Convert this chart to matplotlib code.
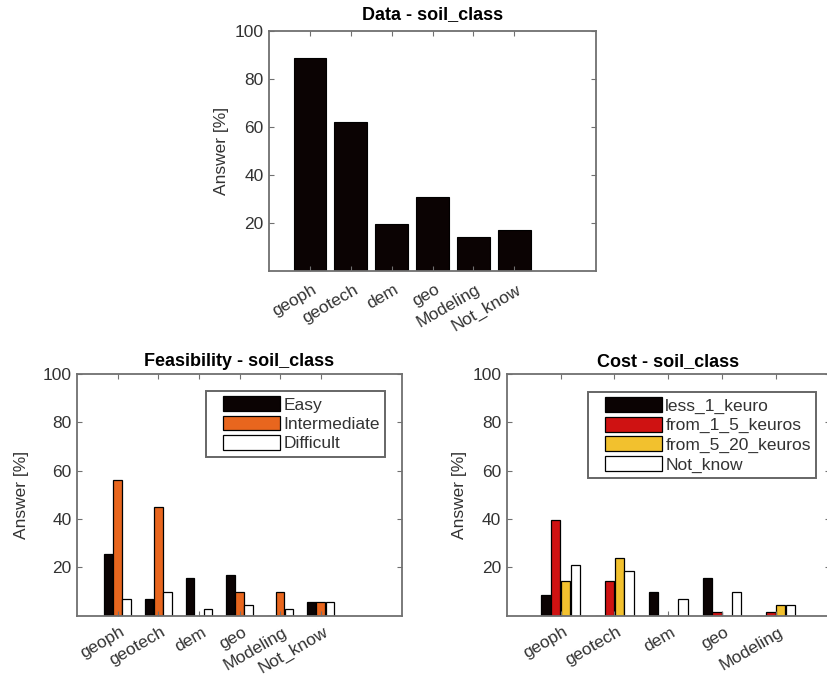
import matplotlib
matplotlib.use("Agg")
import matplotlib.pyplot as plt
import matplotlib.transforms as mtransforms
from matplotlib.patches import Rectangle
from matplotlib.legend_handler import HandlerPatch
import numpy as np

plt.rcParams['font.family'] = ['Liberation Sans', 'DejaVu Sans']

# ---------------- data ----------------
cats_data = ['geoph', 'geotech', 'dem', 'geo', 'Modeling', 'Not_know']
data_vals = [88.7, 62.0, 19.7, 31.0, 14.1, 16.9]

cats_feas = ['geoph', 'geotech', 'dem', 'geo', 'Modeling', 'Not_know']
feas_labels = ['Easy', 'Intermediate', 'Difficult']
feas_easy = [25.4, 7.0, 15.5, 16.9, 0.0, 5.6]
feas_inter = [56.3, 45.1, 0.0, 9.9, 9.9, 5.6]
feas_diff = [7.0, 9.9, 2.8, 4.2, 2.8, 5.6]

cats_cost = ['geoph', 'geotech', 'dem', 'geo', 'Modeling']
cost_labels = ['less_1_keuro', 'from_1_5_keuros', 'from_5_20_keuros', 'Not_know']
cost_less1 = [8.5, 0.0, 9.9, 15.5, 0.0]
cost_1_5 = [39.4, 14.1, 0.0, 1.4, 1.4]
cost_5_20 = [14.1, 23.9, 0.0, 0.0, 4.2]
cost_notknow = [21.1, 18.3, 7.0, 9.9, 4.2]

yticks = [20, 40, 60, 80, 100]

# ---------------- style ----------------
BLACK = '#0b0303'
ORANGE = '#E8661E'
RED = '#CF1212'
YELLOW = '#F2C12E'
WHITE = '#FFFFFF'
SPINE = '#707070'
TXT = '#333333'
FS = 12.5

W, H = 827, 675
fig = plt.figure(figsize=(W / 100, H / 100), dpi=100)


def ax_at(left, top, width, height):
    return fig.add_axes([left / W, (H - top - height) / H, width / W, height / H])


def style(ax, cats, title, xmax, ylpad, tpad, xpad):
    ax.set_xlim(0, xmax)
    ax.set_ylim(0, 100)
    ax.set_yticks(yticks)
    ax.set_yticklabels([str(t) for t in yticks], fontsize=FS, color=TXT)
    x = np.arange(1, len(cats) + 1)
    ax.set_xticks(x)
    ax.set_xticklabels(cats, fontsize=FS, color=TXT, rotation=30,
                       ha='right', va='center', rotation_mode='anchor')
    ax.tick_params(axis='x', pad=xpad)
    ax.tick_params(axis='y', pad=4)
    ax.tick_params(direction='in', length=3.5, width=0.8, color=SPINE,
                   top=True, right=True)
    shift = mtransforms.ScaledTranslation(6 / 100, 0, fig.dpi_scale_trans)
    for lab in ax.get_xticklabels():
        lab.set_transform(lab.get_transform() + shift)
    for s in ax.spines.values():
        s.set_color(SPINE)
        s.set_linewidth(1.3)
    ax.set_ylabel('Answer [%]', fontsize=FS, color=TXT, labelpad=ylpad)
    ax.set_title(title, fontsize=13, fontweight='bold', color='black', pad=tpad)


def make_patch(legend, orig_handle, xdescent, ydescent, width, height, fontsize):
    off = 0.7 * fontsize
    return Rectangle((-xdescent + off, -ydescent), width - off, height)


def add_legend(ax, containers, labels, anchor):
    handles = [bc.patches[0] for bc in containers]
    leg = ax.legend(handles, labels, loc='upper right', bbox_to_anchor=anchor,
                    fontsize=FS, frameon=True, fancybox=False,
                    handlelength=3.95, handleheight=0.95, handletextpad=0.2,
                    labelspacing=0.17, borderpad=0.3, borderaxespad=0,
                    handler_map={Rectangle: HandlerPatch(patch_func=make_patch)})
    leg.get_frame().set_edgecolor('#404040')
    leg.get_frame().set_linewidth(1.4)
    for t in leg.get_texts():
        t.set_color(TXT)
    return leg


# ---- top plot ----
ax1 = ax_at(269, 31, 327, 240)
x1 = np.arange(1, len(cats_data) + 1)
ax1.bar(x1, data_vals, width=0.8, color=BLACK, edgecolor='black', linewidth=0.8)
style(ax1, cats_data, 'Data - soil_class', 8, 3.8, 8.5, 12.5)

# ---- feasibility ----
ax2 = ax_at(77, 374, 325, 241.5)
x2 = np.arange(1, len(cats_feas) + 1)
step3 = 0.222
bw3 = 0.21
bars2 = []
for i, (vals, col) in enumerate(zip([feas_easy, feas_inter, feas_diff],
                                    [BLACK, ORANGE, WHITE])):
    bars2.append(ax2.bar(x2 + (i - 1) * step3, vals, width=bw3, color=col,
                         edgecolor='black', linewidth=0.9))
style(ax2, cats_feas, 'Feasibility - soil_class', 8, 10, 6, 11)
add_legend(ax2, bars2, feas_labels, (0.948, 0.93))

# ---- cost ----
ax3 = ax_at(506.7, 374, 323, 241.5)
x3 = np.arange(1, len(cats_cost) + 1)
step4 = 0.182
bw4 = 0.175
bars3 = []
for i, (vals, col) in enumerate(zip([cost_less1, cost_1_5, cost_5_20, cost_notknow],
                                    [BLACK, RED, YELLOW, WHITE])):
    bars3.append(ax3.bar(x3 + (i - 1.5) * step4, vals, width=bw4, color=col,
                         edgecolor='black', linewidth=0.9))
style(ax3, cats_cost, 'Cost - soil_class', 6, 3.8, 6, 11)
add_legend(ax3, bars3, cost_labels, (0.9576, 0.925))

fig.savefig('out.png', dpi=100, facecolor='white')
